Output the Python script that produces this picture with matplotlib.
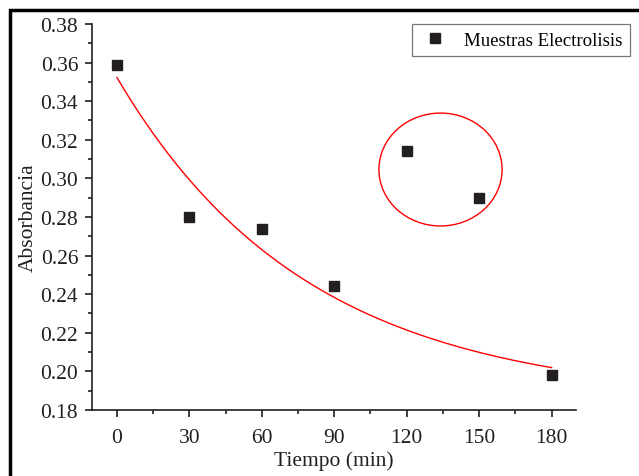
import numpy as np
import matplotlib
matplotlib.use("Agg")
import matplotlib.pyplot as plt
from matplotlib.patches import Ellipse, Rectangle
from matplotlib.ticker import MultipleLocator, FormatStrFormatter

# Data
tiempo = [0, 30, 60, 90, 120, 150, 180]
absorbancia = [0.359, 0.280, 0.274, 0.244, 0.314, 0.290, 0.198]
# circled points (120, 150) are left out of the fit
outliers = [120, 150]

plt.rcParams['font.family'] = ['Liberation Serif', 'DejaVu Serif']

# exponential decay fit y = y0 + A*exp(-x/t) on the non-circled points
x = np.array([t for t in tiempo if t not in outliers], dtype=float)
y = np.array([a for t, a in zip(tiempo, absorbancia) if t not in outliers])
best = None
for t1 in np.linspace(10, 400, 3901):
    M = np.column_stack([np.ones_like(x), np.exp(-x / t1)])
    coef, res, _, _ = np.linalg.lstsq(M, y, rcond=None)
    err = np.sum((M @ coef - y) ** 2)
    if best is None or err < best[0]:
        best = (err, t1, coef)
_, t1, (y0, A) = best
xf = np.linspace(0, 180, 300)
yf = y0 + A * np.exp(-xf / t1)

fig = plt.figure(figsize=(6.39, 4.77), dpi=100)
ax = fig.add_axes([0.144, 0.1384, 0.757, 0.8092])

ax.plot(xf, yf, color='red', lw=1.0)
ax.plot(tiempo, absorbancia, 's', color='#231f20', markersize=7, label='Muestras Electrolisis')

ax.add_patch(Ellipse((134, 0.3046), 51, 0.0585, fill=False, edgecolor='red', lw=1.0))

ax.set_xlim(-10.3, 190)
ax.set_ylim(0.18, 0.38)
ax.xaxis.set_major_locator(MultipleLocator(30))
ax.xaxis.set_minor_locator(MultipleLocator(15))
ax.yaxis.set_major_locator(MultipleLocator(0.02))
ax.yaxis.set_minor_locator(MultipleLocator(0.01))
ax.yaxis.set_major_formatter(FormatStrFormatter('%.2f'))

for s in ['top', 'right']:
    ax.spines[s].set_visible(False)
for s in ['left', 'bottom']:
    ax.spines[s].set_linewidth(1.2)
    ax.spines[s].set_color('#231f20')

ax.tick_params(which='major', direction='out', length=5, width=1.2, labelsize=15.5,
               colors='#231f20')
ax.tick_params(axis='x', which='major', pad=8)
ax.tick_params(axis='y', which='major', pad=5)
ax.tick_params(which='minor', direction='out', length=3, width=1.2, colors='#231f20')

ax.set_xlabel('Tiempo (min)', fontsize=15.5, color='#231f20', labelpad=2)
ax.set_ylabel('Absorbancia', fontsize=15.5, color='#231f20', labelpad=2)

leg = ax.legend(loc='upper right', bbox_to_anchor=(1.112, 1.0), fontsize=13.6,
                frameon=True, fancybox=False, handletextpad=0.75, borderpad=0.4,
                handlelength=1.6, borderaxespad=0.0)
leg.get_frame().set_edgecolor('#555555')
leg.get_frame().set_linewidth(0.9)

# outer black frame (partially cropped in the reference)
fig.patches.append(Rectangle((10 / 639, -0.5), 2.0, 1.5 - 11 / 477,
                             transform=fig.transFigure, fill=False,
                             edgecolor='black', lw=2.5, clip_on=False))

fig.savefig('out.png', dpi=100)
